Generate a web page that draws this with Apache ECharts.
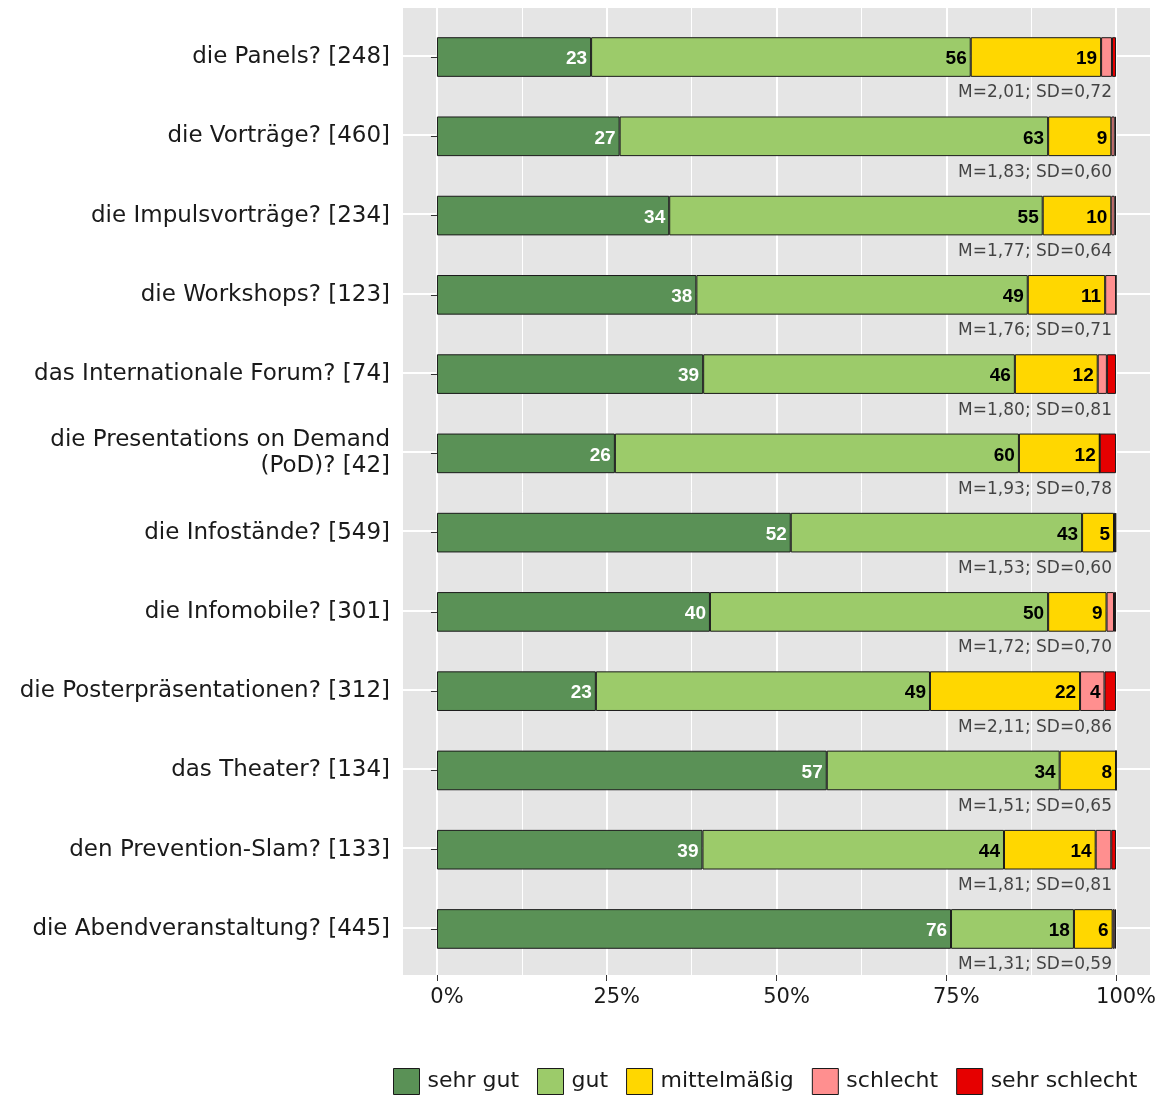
<!DOCTYPE html>
<html>
<head>
<meta charset="utf-8">
<script src="https://cdn.jsdelivr.net/npm/echarts@6/dist/echarts.min.js"></script>
<style>
  html, body { margin: 0; padding: 0; background: #fff; }
  #chart { width: 1170px; height: 1095px; }
</style>
</head>
<body>
<div id="chart"></div>
<script>
const categories = [
  'die Panels? [248]',
  'die Vorträge? [460]',
  'die Impulsvorträge? [234]',
  'die Workshops? [123]',
  'das Internationale Forum? [74]',
  'die Presentations on Demand\n(PoD)? [42]',
  'die Infostände? [549]',
  'die Infomobile? [301]',
  'die Posterpräsentationen? [312]',
  'das Theater? [134]',
  'den Prevention-Slam? [133]',
  'die Abendveranstaltung? [445]'
]
const levels = ['sehr gut', 'gut', 'mittelmäßig', 'schlecht', 'sehr schlecht']

// percent shares per category
const sehrGut      = [22.7, 26.9, 34.2, 38.2, 39.2, 26.2, 52.1, 40.2, 23.4, 57.4, 39.1, 75.7]
const gut          = [55.9, 63.1, 55.0, 48.8, 45.9, 59.5, 42.9, 49.8, 49.2, 34.3, 44.4, 18.1]
const mittelmaessig = [19.2, 9.3, 10.1, 11.4, 12.2, 11.9, 4.7, 8.6, 22.1, 8.3, 13.5, 5.7]
const schlecht     = [1.6, 0.5, 0.5, 1.6, 1.35, 0, 0.2, 1.1, 3.6, 0, 2.3, 0.3]
const sehrSchlecht = [0.6, 0.2, 0.2, 0, 1.35, 2.4, 0.1, 0.3, 1.7, 0, 0.7, 0.2]

const means = [2.01, 1.83, 1.77, 1.76, 1.80, 1.93, 1.53, 1.72, 2.11, 1.51, 1.81, 1.31]
const sds   = [0.72, 0.60, 0.64, 0.71, 0.81, 0.78, 0.60, 0.70, 0.86, 0.65, 0.81, 0.59]

const xTicks = [0, 25, 50, 75, 100]
const xMinorTicks = [12.5, 37.5, 62.5, 87.5]
const rowPositions = [1, 2, 3, 4, 5, 6, 7, 8, 9, 10, 11, 12]

const colors = ['#5a9156', '#9ccb6a', '#ffd700', '#ff8f8f', '#e60000']
const seriesValues = [sehrGut, gut, mittelmaessig, schlecht, sehrSchlecht]

const fmt = v => v.toFixed(2).replace('.', ',')
const textFont = 'DejaVu Sans'

const chart = echarts.init(document.getElementById('chart'))

const barSeries = levels.map((name, i) => ({
  name,
  type: 'bar',
  stack: 'total',
  xAxisIndex: 0,
  yAxisIndex: 0,
  barWidth: '50%',
  data: seriesValues[i],
  itemStyle: { color: colors[i], borderColor: '#1a1a1a', borderWidth: 1 },
  label: {
    show: true,
    position: 'insideRight',
    distance: 4,
    offset: [0, 2],
    fontFamily: 'Liberation Sans',
    fontWeight: 'bold',
    fontSize: 19,
    color: i === 0 ? '#ffffff' : '#000000',
    formatter: p => (p.value >= 3 ? String(Math.round(p.value)) : '')
  }
}))

chart.setOption({
  animation: false,
  grid: [
    { left: 403, right: 20, top: 17.4, bottom: 126.4, show: false },
    { left: 403, right: 20, top: 8, bottom: 120, show: true, backgroundColor: '#e5e5e5', borderWidth: 0, z: -1 }
  ],
  xAxis: [
    {
      gridIndex: 0, type: 'value', min: -5, max: 105,
      axisLine: { show: false }, axisTick: { show: false },
      axisLabel: { show: false }, splitLine: { show: false }
    },
    {
      gridIndex: 1, type: 'value', min: -5, max: 105,
      axisLine: { show: false },
      axisTick: { show: true, length: 6, lineStyle: { color: '#333' }, customValues: xTicks },
      axisLabel: {
        customValues: xTicks,
        formatter: v => v + '%',
        fontFamily: textFont, fontSize: 21, color: '#1a1a1a',
        margin: 12, padding: [0, 0, 0, 20]
      },
      splitLine: { show: true, lineStyle: { color: '#ffffff', width: 2 } }
    },
    {
      gridIndex: 1, type: 'value', min: -5, max: 105,
      axisLine: { show: false },
      axisTick: { show: false, customValues: xMinorTicks },
      axisLabel: { show: false },
      splitLine: { show: true, lineStyle: { color: '#ffffff', width: 1 } }
    }
  ],
  yAxis: [
    {
      gridIndex: 0, type: 'category', inverse: true, data: categories,
      axisLine: { show: false },
      axisTick: { show: true, length: 6, alignWithLabel: true, lineStyle: { color: '#333' } },
      axisLabel: {
        fontFamily: textFont, fontSize: 23, color: '#1a1a1a',
        margin: 13, lineHeight: 26
      },
      splitLine: { show: false }
    },
    {
      gridIndex: 1, type: 'value', inverse: true, min: 0.4, max: 12.6,
      axisLine: { show: false },
      axisTick: { show: false, customValues: rowPositions },
      axisLabel: { show: false },
      splitLine: { show: true, lineStyle: { color: '#ffffff', width: 2 } }
    }
  ],
  legend: {
    data: levels,
    left: 393,
    top: 1068,
    padding: 0,
    icon: 'rect',
    itemWidth: 26,
    itemHeight: 26,
    itemGap: 18,
    itemStyle: { borderColor: '#1a1a1a', borderWidth: 1 },
    textStyle: { fontFamily: textFont, fontSize: 22, color: '#1a1a1a', padding: [0, 0, 0, 3] }
  },
  series: [
    ...barSeries,
    {
      type: 'scatter',
      xAxisIndex: 0,
      yAxisIndex: 0,
      silent: true,
      symbolSize: 0.1,
      itemStyle: { color: 'rgba(0,0,0,0)' },
      data: means.map((m, i) => [100, i]),
      label: {
        show: true,
        position: 'left',
        distance: 4,
        offset: [0, 36],
        fontFamily: textFont,
        fontSize: 17,
        color: '#1a1a1a',
        formatter: p => 'M=' + fmt(means[p.dataIndex]) + '; SD=' + fmt(sds[p.dataIndex])
      }
    }
  ]
})

window.addEventListener('resize', () => chart.resize())
</script>
</body>
</html>
